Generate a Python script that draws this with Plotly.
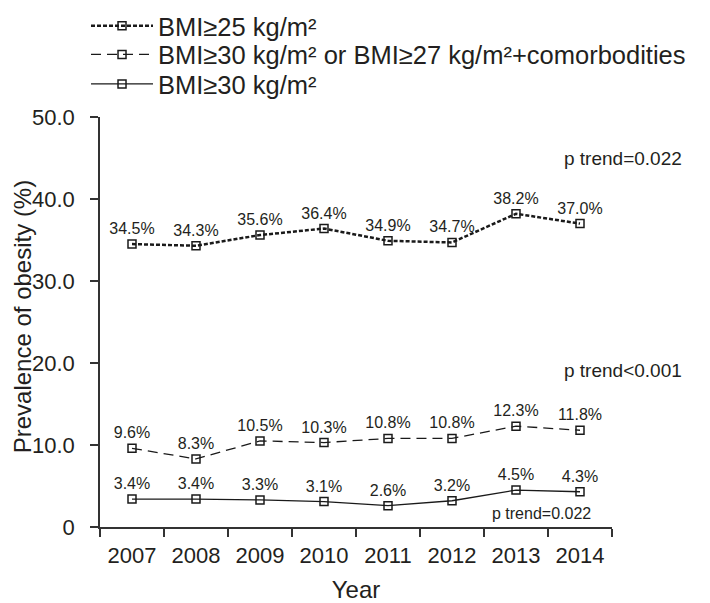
import plotly.graph_objects as go

years = ["2007", "2008", "2009", "2010", "2011", "2012", "2013", "2014"]
bmi25 = [34.5, 34.3, 35.6, 36.4, 34.9, 34.7, 38.2, 37.0]
bmi30_or_27 = [9.6, 8.3, 10.5, 10.3, 10.8, 10.8, 12.3, 11.8]
bmi30 = [3.4, 3.4, 3.3, 3.1, 2.6, 3.2, 4.5, 4.3]

names = [
    "BMI≥25 kg/m²",
    "BMI≥30 kg/m² or BMI≥27 kg/m²+comorbodities",
    "BMI≥30 kg/m²",
]
y_ticks = [0, 10, 20, 30, 40, 50]
y_ticktext = ["0", "10.0", "20.0", "30.0", "40.0", "50.0"]
y_title = "Prevalence of obesity (%)"
x_title = "Year"

# (text, y value, font size, right edge in paper x)
trends = [("p trend=0.022", 45.0, 19, 1.14), ("p trend<0.001", 19.1, 19, 1.14), ("p trend=0.022", 1.7, 16, 0.963)]

FONT = "Liberation Sans, Arial, sans-serif"
TXT = "#231f20"

fig = go.Figure()
series = [bmi25, bmi30_or_27, bmi30]
dashes = ["4px,2px", "10px,6px", "solid"]
widths = [2.5, 1.3, 1.3]
legend_ids = ["legend", "legend2", "legend3"]
legend_ys = [1.279, 1.209, 1.137]
for name, vals, d, w, lg in zip(names, series, dashes, widths, legend_ids):
    fig.add_trace(go.Scatter(
        x=years, y=vals, name=name, legend=lg,
        mode="lines+markers+text",
        text=[f"{v:.1f}%" for v in vals],
        textposition="top center",
        textfont=dict(size=16, color=TXT, family=FONT),
        line=dict(color="#1a1a1a", width=w, dash=d),
        marker=dict(symbol="square-open", size=8, color="#1a1a1a", line=dict(width=1.5)),
        cliponaxis=False,
    ))

for txt, yv, fs, xr in trends:
    fig.add_annotation(
        x=xr, y=yv, xref="paper", yref="y", text=txt, showarrow=False,
        xanchor="right",
        font=dict(size=fs, color=TXT, family=FONT),
    )

fig.add_annotation(
    x=-0.152, y=0.512, xref="paper", yref="paper", text=y_title, showarrow=False,
    textangle=-90, xanchor="center", yanchor="middle",
    font=dict(size=24, color=TXT, family=FONT),
)

legend_style = dict(
    x=-0.0273, xanchor="left", yanchor="top",
    font=dict(size=25.5, color=TXT, family=FONT),
    bgcolor="rgba(0,0,0,0)", itemwidth=62,
)
fig.update_layout(
    width=702, height=595,
    margin=dict(l=92, r=98, t=109, b=76, autoexpand=False),
    plot_bgcolor="white", paper_bgcolor="white",
    font=dict(family=FONT, color=TXT),
    legend=dict(y=legend_ys[0], **legend_style),
    legend2=dict(y=legend_ys[1], **legend_style),
    legend3=dict(y=legend_ys[2], **legend_style),
    showlegend=True,
)
fig.update_xaxes(
    type="category", range=[-0.5, 7.5], tickson="boundaries",
    ticks="outside", ticklen=8, tickwidth=1.5, tickcolor="#333",
    showline=True, linecolor="#333", linewidth=1.5, showgrid=False,
    ticklabelstandoff=8,
    tickfont=dict(size=22, color=TXT, family=FONT),
    title=dict(text=x_title, font=dict(size=24, color=TXT, family=FONT), standoff=21),
)
fig.update_yaxes(
    range=[0, 50], tickvals=y_ticks, ticktext=y_ticktext,
    ticks="outside", ticklen=8, tickwidth=1.5, tickcolor="#333",
    showline=True, linecolor="#333", linewidth=1.5, showgrid=False, zeroline=False,
    ticklabelstandoff=11,
    tickfont=dict(size=22, color=TXT, family=FONT),
)

fig.write_html("out.html")
